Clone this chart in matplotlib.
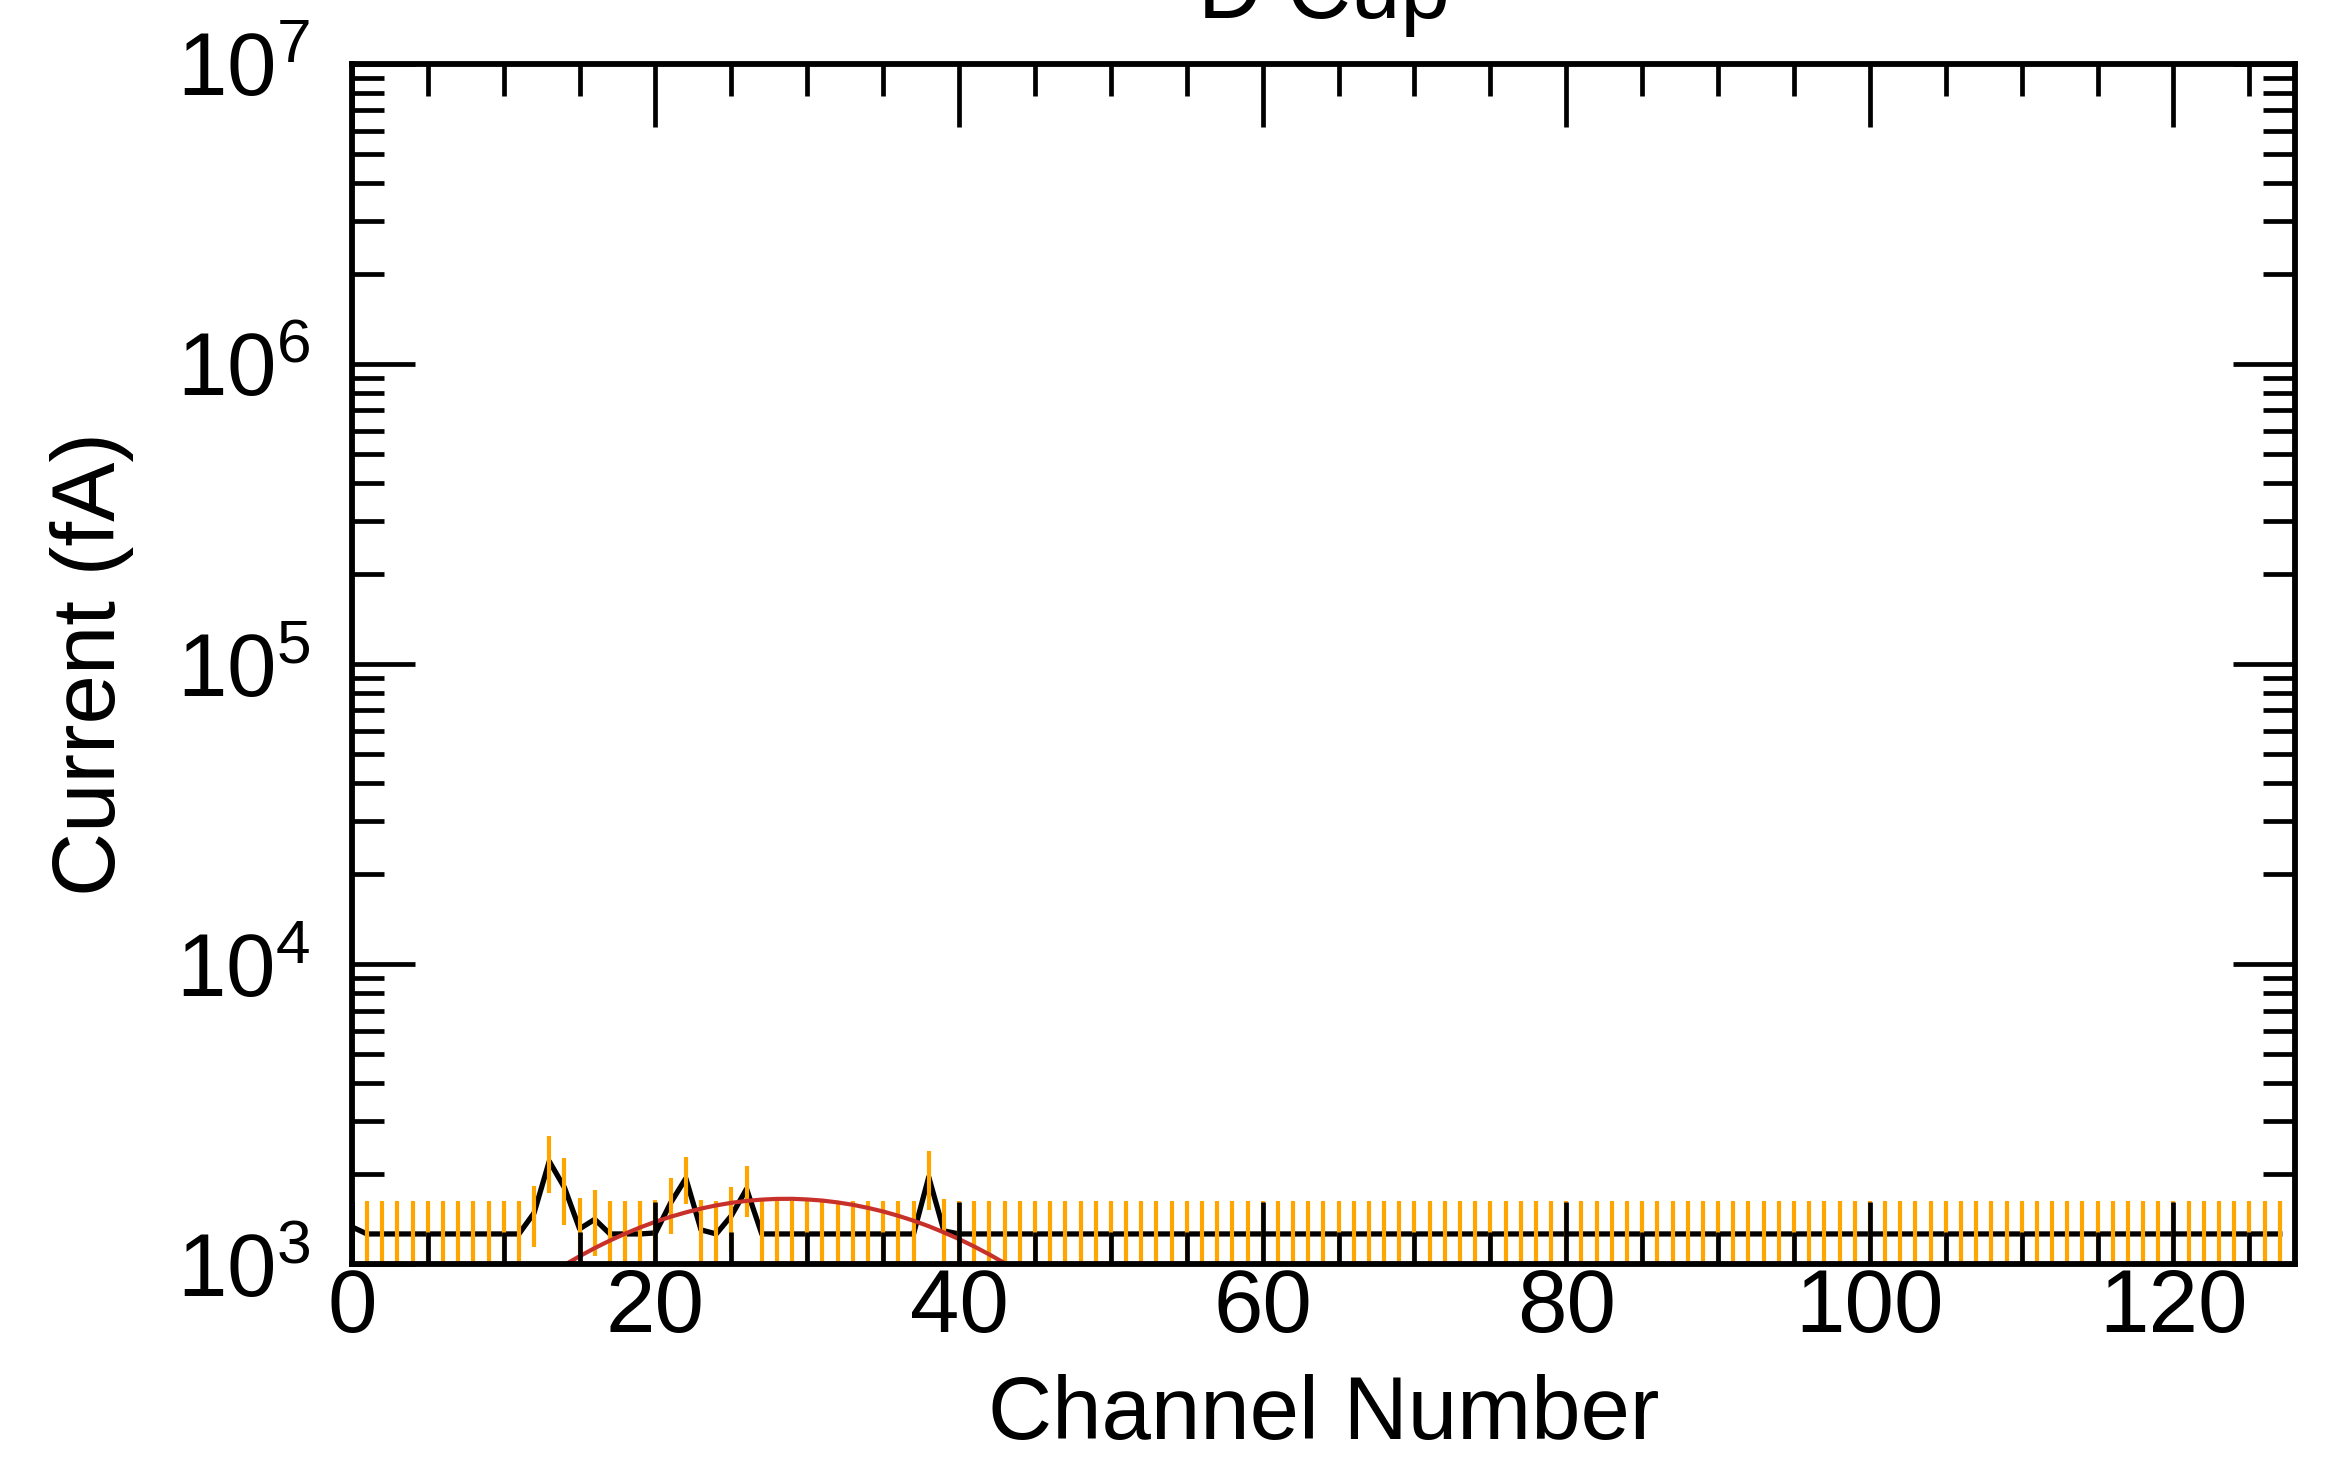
import numpy as np
import matplotlib
matplotlib.use("Agg")
import matplotlib.pyplot as plt
from matplotlib.ticker import FixedLocator, FixedFormatter, NullFormatter

plt.rcParams["font.family"] = ["Liberation Sans", "DejaVu Sans"]
plt.rcParams["mathtext.fontset"] = "custom"
plt.rcParams["mathtext.rm"] = "Liberation Sans"
plt.rcParams["mathtext.it"] = "Liberation Sans"

# measured current per channel (fA), channels 0..127
current = [
    1330, 1260, 1260, 1260, 1260, 1260, 1260, 1260, 1260, 1260, 1260, 1260, 1480, 2200, 1800, 1310,
    1410, 1260, 1260, 1260, 1270, 1600, 1930, 1300, 1260, 1450, 1780, 1260, 1260, 1260, 1260, 1260,
    1260, 1260, 1260, 1260, 1260, 1260, 1950, 1290, 1260, 1260, 1260, 1260, 1260, 1260, 1260, 1260,
    1260, 1260, 1260, 1260, 1260, 1260, 1260, 1260, 1260, 1260, 1260, 1260, 1260, 1260, 1260, 1260,
    1260, 1260, 1260, 1260, 1260, 1260, 1260, 1260, 1260, 1260, 1260, 1260, 1260, 1260, 1260, 1260,
    1260, 1260, 1260, 1260, 1260, 1260, 1260, 1260, 1260, 1260, 1260, 1260, 1260, 1260, 1260, 1260,
    1260, 1260, 1260, 1260, 1260, 1260, 1260, 1260, 1260, 1260, 1260, 1260, 1260, 1260, 1260, 1260,
    1260, 1260, 1260, 1260, 1260, 1260, 1260, 1260, 1260, 1260, 1260, 1260, 1260, 1260, 1260, 1260,
]
# error bar half-heights (fA)
current_err = [
    365, 365, 365, 365, 365, 365, 365, 365, 365, 365, 365, 365, 340, 480, 450, 350,
    350, 365, 365, 365, 365, 340, 340, 330, 365, 350, 350, 365, 365, 365, 365, 365,
    365, 365, 365, 365, 365, 365, 440, 360, 365, 365, 365, 365, 365, 365, 365, 365,
    365, 365, 365, 365, 365, 365, 365, 365, 365, 365, 365, 365, 365, 365, 365, 365,
    365, 365, 365, 365, 365, 365, 365, 365, 365, 365, 365, 365, 365, 365, 365, 365,
    365, 365, 365, 365, 365, 365, 365, 365, 365, 365, 365, 365, 365, 365, 365, 365,
    365, 365, 365, 365, 365, 365, 365, 365, 365, 365, 365, 365, 365, 365, 365, 365,
    365, 365, 365, 365, 365, 365, 365, 365, 365, 365, 365, 365, 365, 365, 365, 365,
]
channels = np.arange(len(current))

# fitted peak (red curve)
fit_channels = np.arange(14, 45)
fit_current = [
    993, 1062, 1131, 1198, 1263, 1325, 1384, 1438, 1487, 1531, 1569, 1600, 1624, 1640, 1649, 1650,
    1642, 1628, 1605, 1576, 1539, 1497, 1448, 1395, 1337, 1275, 1211, 1144, 1076, 1007, 938,
]

x_ticks = [0, 20, 40, 60, 80, 100, 120]
y_ticks = [1e3, 1e4, 1e5, 1e6, 1e7]
y_tick_labels = [r"$\mathregular{10^{3}}$", r"$\mathregular{10^{4}}$", r"$\mathregular{10^{5}}$",
                 r"$\mathregular{10^{6}}$", r"$\mathregular{10^{7}}$"]

fig = plt.figure(figsize=(23.32, 14.60), dpi=100)
ax = fig.add_axes([0.1509, 0.1342, 0.8332, 0.822])

ax.plot(channels, current, color="black", lw=3.8, zorder=1)
ax.errorbar(channels, current, yerr=current_err, fmt="none", ecolor="#FFA500",
            elinewidth=3.0, capsize=0, zorder=1.5)
ax.plot(fit_channels, fit_current, color="#C8302A", lw=3.0, zorder=2)

ax.set_yscale("log")
ax.set_xlim(0, 128)
ax.set_ylim(1e3, 1e7)
ax.set_axisbelow(False)

ax.xaxis.set_major_locator(FixedLocator(x_ticks))
ax.xaxis.set_minor_locator(FixedLocator(np.arange(0, 129, 5)))
ax.yaxis.set_major_locator(FixedLocator(y_ticks))
ax.yaxis.set_major_formatter(FixedFormatter(y_tick_labels))
minor_y = [m * 10.0 ** d for d in range(3, 7) for m in range(2, 10)]
ax.yaxis.set_minor_locator(FixedLocator(minor_y))
ax.yaxis.set_minor_formatter(NullFormatter())

ax.tick_params(which="both", direction="in", top=True, right=True, width=3.4, color="black")
ax.tick_params(which="major", length=45)
ax.tick_params(which="minor", length=23)
ax.tick_params(axis="x", which="major", labelsize=64, pad=2)
ax.tick_params(axis="y", which="major", labelsize=64, pad=30)
for s in ax.spines.values():
    s.set_linewidth(4.2)

fig.text(0.5675, 0.0145, "Channel Number", fontsize=64, ha="center", va="baseline")
fig.text(0.0395, 0.545, "Current (fA)", fontsize=64, ha="center", va="center", rotation=90)
fig.text(0.5675, 0.9877, "D Cup", fontsize=64, ha="center", va="baseline")

fig.savefig("out.png", dpi=100)
